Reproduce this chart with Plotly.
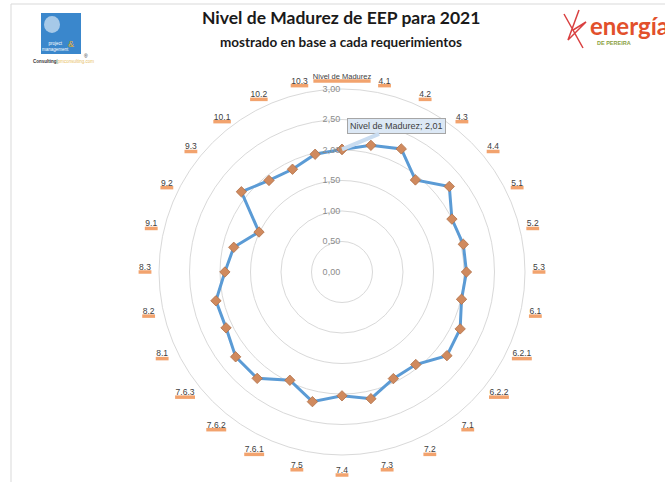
import math
import plotly.graph_objects as go

# ---------------- data ----------------
categories = ["Nivel de Madurez", "4.1", "4.2", "4.3", "4.4", "5.1", "5.2", "5.3",
              "6.1", "6.2.1", "6.2.2", "7.1", "7.2", "7.3", "7.4", "7.5",
              "7.6.1", "7.6.2", "7.6.3", "8.1", "8.2", "8.3", "9.1", "9.2",
              "9.3", "10.1", "10.2", "10.3"]
values = [2.01, 2.13, 2.24, 1.93, 2.25, 2.00, 2.04, 2.04,
          2.01, 2.15, 2.20, 1.94, 1.94, 2.13, 2.03, 2.18,
          1.97, 2.23, 2.23, 2.11, 2.12, 1.92, 1.82, 1.51,
          2.11, 1.92, 1.87, 1.98]
radial_ticks = [0, 0.5, 1.0, 1.5, 2.0, 2.5, 3.0]
radial_ticktext = ["0,00", "0,50", "1,00", "1,50", "2,00", "2,50", "3,00"]
series_name = "Nivel de Madurez"
title_text = "Nivel de Madurez de EEP para 2021"
subtitle_text = "mostrado en base a cada requerimientos"

# ---------------- layout geometry ----------------
W, H = 665, 482
CX, CY = 342, 272          # chart centre in px
PX_PER_UNIT = 61
RMAX = 3.42
R = RMAX * PX_PER_UNIT
dom_x = [(CX - R) / W, (CX + R) / W]
dom_y = [1 - (CY + R) / H, 1 - (CY - R) / H]

# label ring: text sits ~198px out, the orange bar ~6px below the text
LABEL_PX = 197
TEXT_LIFT = 6
n = len(categories)
label_r = [(LABEL_PX - TEXT_LIFT * math.cos(2 * math.pi * i / n)) / PX_PER_UNIT
           for i in range(n)]


def label_width(s, fs):
    w = 0
    for ch in s:
        if ch.isdigit():
            w += 0.556 * fs
        elif ch == ".":
            w += 0.278 * fs
        elif ch == " ":
            w += 0.25 * fs
        else:
            w += 0.5 * fs
    return w + 1


label_fs = [7.5 if len(c) > 6 else 8.5 for c in categories]
# plotly's line-ew symbol is 1.4 x size long
bar_sizes = [label_width(c, f) / 1.4 for c, f in zip(categories, label_fs)]

fig = go.Figure()

# category label bars (orange)
fig.add_trace(go.Scatterpolar(
    r=label_r, theta=categories, mode="markers",
    marker=dict(symbol="line-ew", size=bar_sizes,
                line=dict(color="#ed7d31", width=3.5)),
    cliponaxis=False, hoverinfo="skip", showlegend=False))

# category label text
fig.add_trace(go.Scatterpolar(
    r=label_r, theta=categories, mode="text",
    text=categories, textposition="top center",
    textfont=dict(family="Liberation Sans", size=label_fs, color="#404040"),
    cliponaxis=False, hoverinfo="skip", showlegend=False))

# data series (closed loop)
fig.add_trace(go.Scatterpolar(
    r=values + values[:1], theta=categories + categories[:1],
    mode="lines+markers", name=series_name,
    line=dict(color="#5b9bd5", width=3),
    marker=dict(symbol="diamond", size=8, color="#d08a5e",
                line=dict(color="#b07048", width=0.8)),
    showlegend=False))

fig.update_layout(
    width=W, height=H,
    margin=dict(l=0, r=0, t=0, b=0),
    paper_bgcolor="white",
    font=dict(family="Liberation Sans", color="#404040"),
    polar=dict(
        domain=dict(x=dom_x, y=dom_y),
        bgcolor="white",
        radialaxis=dict(range=[0, RMAX], tickvals=radial_ticks,
                        ticktext=radial_ticktext, angle=90, tickangle=90,
                        side="counterclockwise", showline=False, ticks="",
                        gridcolor="#d9d9d9", gridwidth=1,
                        tickfont=dict(size=9, color="#8c8c8c")),
        angularaxis=dict(type="category", categoryarray=categories,
                         rotation=90, direction="clockwise",
                         showline=False, showgrid=False,
                         showticklabels=False, ticks=""),
    ),
    showlegend=False,
)

# frame lines
fig.add_shape(type="line", xref="paper", yref="paper",
              x0=11 / W, x1=1.01, y0=1 - 4 / H, y1=1 - 4 / H,
              line=dict(color="#d9d9d9", width=1))
fig.add_shape(type="line", xref="paper", yref="paper",
              x0=11 / W, x1=11 / W, y0=-0.01, y1=1 - 4 / H,
              line=dict(color="#d9d9d9", width=1))


def note(text, x, y, size, color="#1a1a1a", family=None, xanchor="center"):
    f = dict(size=size, color=color)
    if family:
        f["family"] = family
    fig.add_annotation(text=text, xref="paper", yref="paper", x=x / W, y=1 - y / H,
                       xanchor=xanchor, yanchor="middle", showarrow=False, font=f)


# titles
note("<b>" + title_text + "</b>", 341, 18, 17.5, family="Lato")
note("<b>" + subtitle_text + "</b>", 341, 42, 13.5, family="Lato")

# callout for first point
top_y_px = CY - values[0] * PX_PER_UNIT
fig.add_annotation(text="Nivel de Madurez; " + f"{values[0]:.2f}".replace(".", ","),
                   xref="paper", yref="paper", x=CX / W, y=1 - top_y_px / H,
                   ax=55, ay=-23, showarrow=True, arrowhead=0, arrowwidth=4,
                   arrowcolor="#c9dcf0", bgcolor="#dce8f5", bordercolor="#a6a6a6",
                   borderwidth=1, borderpad=2,
                   font=dict(family="Liberation Sans", size=9, color="#404040"))

# left logo
fig.add_shape(type="rect", xref="paper", yref="paper",
              x0=41 / W, x1=81 / W, y0=1 - 54 / H, y1=1 - 13 / H,
              line=dict(width=0), fillcolor="#3a87cc")
fig.add_shape(type="circle", xref="paper", yref="paper",
              x0=44 / W, x1=60 / W, y0=1 - 33 / H, y1=1 - 16 / H,
              line=dict(width=0), fillcolor="rgba(255,255,255,0.55)")
note("project<br>management", 55, 47, 4.5, color="white")
note("&", 71, 44, 9, color="#e0b030")
note("®", 86, 56, 5, color="#333333")
note("<b>Consulting</b>|<span style='color:#e8c060'>pmconsulting.com</span>",
     63, 62, 4.5, color="#333333")

# right logo
note("<b>energía</b>", 588, 25, 24, color="#e2502c", family="Lato", xanchor="left")
note("<b>DE PEREIRA</b>", 595, 43, 5.5, color="#8aa040", xanchor="left")
fig.add_shape(type="path", xref="paper", yref="paper",
              path=(f"M {564/W} {1-14/H} L {583/W} {1-48/H} L {573/W} {1-30/H} "
                    f"L {586/W} {1-22/H} L {568/W} {1-40/H} L {579/W} {1-10/H}"),
              line=dict(color="#d94040", width=1.5))

fig.write_html("out.html")
